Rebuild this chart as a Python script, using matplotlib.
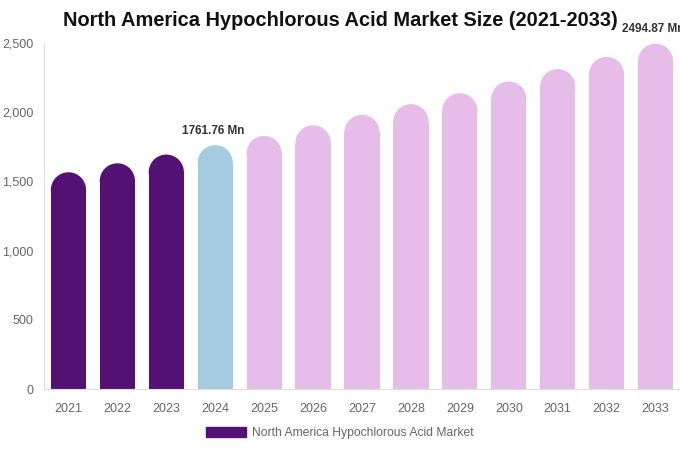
import numpy as np
import matplotlib.pyplot as plt
from matplotlib.patches import Ellipse, Rectangle, Patch

plt.rcParams['font.family'] = ['Liberation Sans', 'DejaVu Sans']

years = ['2021', '2022', '2023', '2024', '2025', '2026', '2027',
         '2028', '2029', '2030', '2031', '2032', '2033']
values = [1566, 1631, 1694, 1761.76, 1829, 1906, 1981,
          2058, 2137, 2222, 2312, 2400, 2494.87]
labels = {3: '1761.76 Mn', 12: '2494.87 Mn'}

dark = '#531273'
blue = '#a4cbe0'
pink = '#e6bde9'
colors = [dark] * 3 + [blue] + [pink] * 9

fig = plt.figure(figsize=(6.8, 4.5), dpi=100)
ax = fig.add_axes([44 / 680, 1 - 389 / 450, 636 / 680, 346 / 450])
ax.set_xlim(-0.5, 12.5)
ax.set_ylim(0, 2500)

width = 0.72
# radius of rounded cap in data units (half bar width in pixels)
px_per_x = 636 / 13
px_per_y = 346 / 2500
r_px = width * px_per_x / 2
r_y = r_px / px_per_y

for i, v in enumerate(values):
    ax.add_patch(Rectangle((i - width / 2, 0), width, v - r_y, color=colors[i], lw=0))
    ax.add_patch(Ellipse((i, v - r_y), width, 2 * r_y, color=colors[i], lw=0))
    if i in labels:
        ax.text(i - 0.05, v + 62, labels[i], ha='center', va='bottom',
                fontsize=8.5, fontweight='bold', color='#333333', clip_on=False)

ax.set_xticks(range(len(years)))
ax.set_xticklabels(years)
ax.set_yticks([0, 500, 1000, 1500, 2000, 2500])
ax.set_yticklabels(['0', '500', '1,000', '1,500', '2,000', '2,500'])
ax.tick_params(length=0, labelsize=9, colors='#666666')
ax.tick_params(axis='x', pad=10)
ax.tick_params(axis='y', pad=7.5)
for s in ['top', 'right']:
    ax.spines[s].set_visible(False)
for s in ['left', 'bottom']:
    ax.spines[s].set_color('#dddddd')
    ax.spines[s].set_linewidth(0.8)

fig.suptitle('North America Hypochlorous Acid Market Size (2021-2033)',
             x=340 / 680, y=1 - 21 / 450, va='center',
             fontsize=14.4, fontweight='bold', color='#111111')

leg = fig.legend(handles=[Patch(color=dark, label='North America Hypochlorous Acid Market')],
                 loc='center', bbox_to_anchor=(340 / 680, 1 - 433 / 450),
                 frameon=False, fontsize=8.7, handlelength=3.3, handleheight=0.9,
                 handletextpad=0.5)
for t in leg.get_texts():
    t.set_color('#666666')

fig.savefig('out.png', dpi=100)
